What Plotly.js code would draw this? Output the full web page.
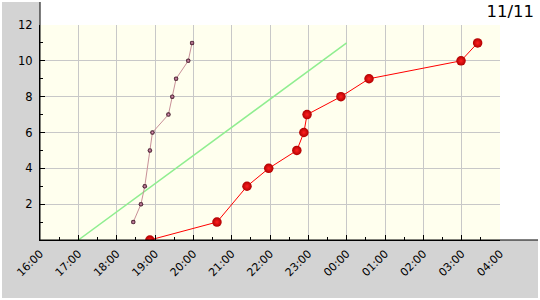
<!DOCTYPE html>
<html>
<head>
<meta charset="utf-8">
<script src="https://cdn.plot.ly/plotly-3.0.1.min.js"></script>
<style>html,body{margin:0;padding:0;background:#fff;}#chart{width:540px;height:300px;}</style>
</head>
<body>
<div id="chart"></div>
<script>
// Data
const redTimes = ['18:52','20:37','21:24','21:58','22:42','22:53','22:58','23:51','00:35','02:59','03:25'];
const redValues = [0,1,3,4,5,6,7,8,9,10,11];
const pinkTimes = ['18:26','18:38','18:44','18:52','18:56','19:21','19:27','19:33','19:52','19:58'];
const pinkValues = [1,2,3,5,6,7,8,9,10,11];
const greenTimes = ['17:00','00:00'];
const greenValues = [0,11];
const yTickVals = [2,4,6,8,10,12];
const titleText = '11/11';

function toDate(t){
  const h = parseInt(t.split(':')[0],10);
  return (h < 12 ? '2000-01-02 ' : '2000-01-01 ') + t;
}

const FONT = 'DejaVu Sans';

const traces = [
  {x: greenTimes.map(toDate), y: greenValues, mode:'lines', line:{color:'#90ee90', width:1.5}, hoverinfo:'skip'},
  {x: pinkTimes.map(toDate), y: pinkValues, mode:'lines+markers',
   line:{color:'#c89098', width:1},
   marker:{size:4.5, color:'#300818', gradient:{type:'radial', color:'#e8a0c0'}, line:{width:0}}},
  {x: redTimes.map(toDate), y: redValues, mode:'lines+markers',
   line:{color:'#ff0000', width:1},
   marker:{size:9.5, color:'#b00000', gradient:{type:'radial', color:'#ff2020'}, line:{width:0}}}
];

const px = v => (v-40)/460;
const py = v => (240-v)/215;

const layout = {
  width:540, height:300,
  margin:{l:40, r:40, t:25, b:60, pad:0},
  paper_bgcolor:'#ffffff',
  plot_bgcolor:'#ffffee',
  showlegend:false,
  font:{family:FONT, size:11, color:'#000'},
  title:{text:titleText, font:{family:FONT, size:16.5, color:'#000'},
         xref:'container', yref:'container', x:534/540, xanchor:'right', y:1-11/300, yanchor:'middle'},
  xaxis:{type:'date', range:['2000-01-01 16:00','2000-01-02 04:00'],
         dtick:3600000, tick0:'2000-01-01 16:00', tickformat:'%H:%M', tickangle:-45,
         ticks:'inside', ticklen:5, tickcolor:'#000', tickwidth:1,
         showgrid:true, gridcolor:'#c8c8c8', gridwidth:1,
         showline:true, linecolor:'#000', linewidth:1, zeroline:false,
         tickfont:{family:FONT, size:11, color:'#000'}, ticklabelstandoff:2,
         minor:{dtick:1800000, ticks:'inside', ticklen:3, tickcolor:'#000', showgrid:false}},
  yaxis:{range:[0,12], tickvals:yTickVals,
         ticks:'inside', ticklen:5, tickcolor:'#000', tickwidth:1,
         showgrid:true, gridcolor:'#c8c8c8', gridwidth:1,
         showline:true, linecolor:'#000', linewidth:1, zeroline:false,
         tickfont:{family:FONT, size:11.5, color:'#000'}, ticklabelstandoff:4,
         minor:{tickvals:[1,3,5,7,9,11], ticks:'inside', ticklen:3, tickcolor:'#000', showgrid:false}},
  shapes:[
    {type:'rect', xref:'paper', yref:'paper', x0:px(2), x1:px(40), y0:py(298), y1:py(2), fillcolor:'#d3d3d3', line:{width:0}, layer:'below'},
    {type:'rect', xref:'paper', yref:'paper', x0:px(2), x1:px(538), y0:py(298), y1:py(240), fillcolor:'#d3d3d3', line:{width:0}, layer:'below'},
    {type:'line', xref:'paper', yref:'paper', x0:0, x1:0, y0:0, y1:py(2), line:{color:'#000', width:1}},
    {type:'line', xref:'paper', yref:'paper', x0:0, x1:px(538), y0:0, y1:0, line:{color:'#000', width:1}}
  ]
};

Plotly.newPlot('chart', traces, layout, {staticPlot:true, displayModeBar:false});
</script>
</body>
</html>
